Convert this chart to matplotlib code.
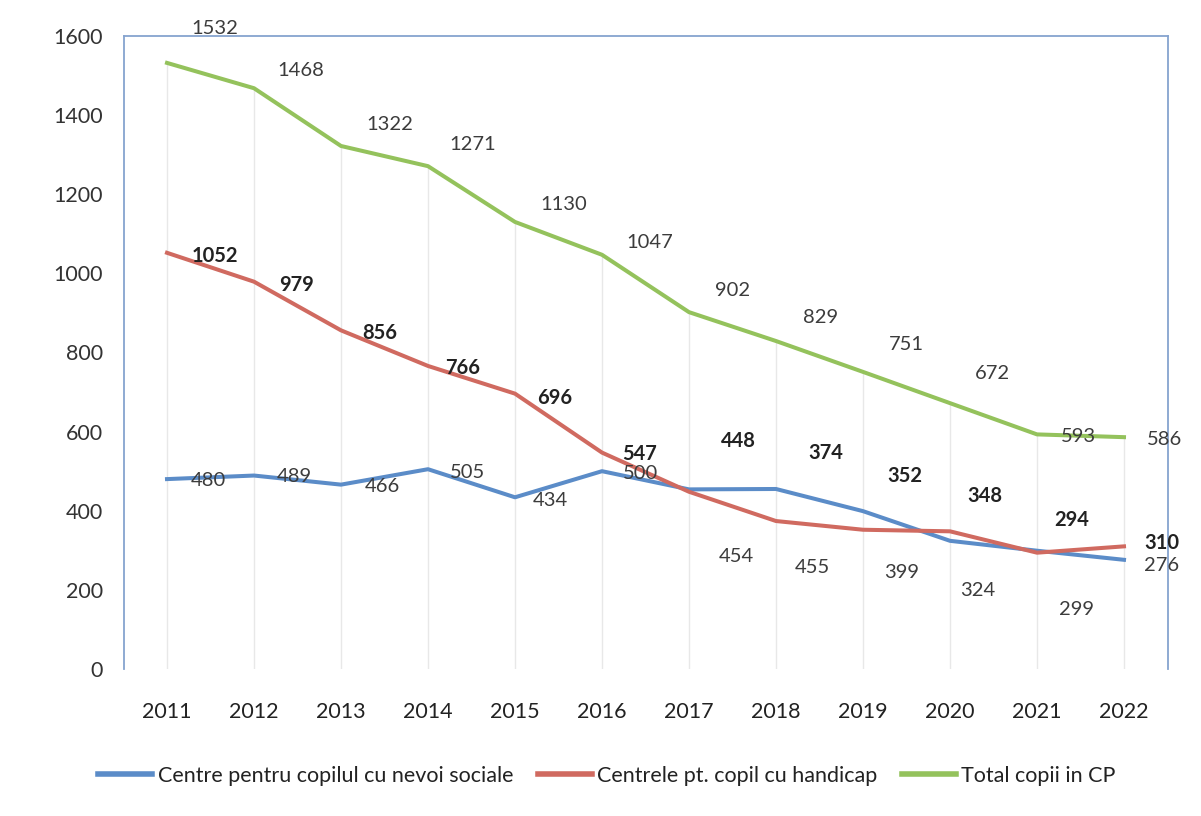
import matplotlib
matplotlib.use("Agg")
import matplotlib.pyplot as plt

years = ["2011", "2012", "2013", "2014", "2015", "2016", "2017", "2018", "2019", "2020", "2021", "2022"]
nevoi_sociale = [480, 489, 466, 505, 434, 500, 454, 455, 399, 324, 299, 276]
handicap = [1052, 979, 856, 766, 696, 547, 448, 374, 352, 348, 294, 310]
total = [1532, 1468, 1322, 1271, 1130, 1047, 902, 829, 751, 672, 593, 586]
y_ticks = [0, 200, 400, 600, 800, 1000, 1200, 1400, 1600]
series_names = ["Centre pentru copilul cu nevoi sociale",
                "Centrele pt. copil cu handicap",
                "Total copii in CP"]

# label offsets in pixels (dx right, dy up) as seen in the reference
off_blue = [(41, -1), (40, -1), (41, -2), (40, -3), (35, -3), (39, -2),
            (47, -67), (36, -79), (39, -61), (28, -50), (40, -59), (38, -6)]
off_red = [(48, -3), (42, -3), (39, -3), (35, -2), (40, -4), (38, -1),
           (49, 51), (50, 68), (42, 54), (35, 35), (35, 33), (38, 3)]
off_green = [(48, 34), (47, 18), (49, 21), (45, 22), (49, 17), (48, 12),
             (44, 22), (45, 24), (43, 27), (42, 30), (41, -2), (41, -2)]

plt.rcParams['font.family'] = ['Lato', 'DejaVu Sans']

W, H = 1201, 816
fig = plt.figure(figsize=(W / 100, H / 100), dpi=100)
ax = fig.add_axes([123.5 / W, (H - 669) / H, 1044 / W, 633 / H])

x = list(range(len(years)))
c_blue = '#5B8CC8'
c_red = '#D06A60'
c_green = '#94C25C'
frame = '#86A4CF'

ax.vlines(x, 0, total, colors='#E8E8E8', linewidth=1.0, zorder=1)

ax.plot(x, nevoi_sociale, color=c_blue, lw=2.9, label=series_names[0], zorder=3,
        solid_joinstyle='round')
ax.plot(x, handicap, color=c_red, lw=2.9, label=series_names[1], zorder=3,
        solid_joinstyle='round')
ax.plot(x, total, color=c_green, lw=2.9, label=series_names[2], zorder=3,
        solid_joinstyle='round')

lab_gray = '#3C3C3C'
for i in x:
    ax.annotate(str(nevoi_sociale[i]), (i, nevoi_sociale[i]), xytext=off_blue[i],
                textcoords='offset pixels', ha='center', va='center',
                fontsize=14.5, color=lab_gray, zorder=4)
    ax.annotate(str(handicap[i]), (i, handicap[i]), xytext=off_red[i],
                textcoords='offset pixels', ha='center', va='center',
                fontsize=14.5, color='#222222', fontweight='bold', zorder=4)
    ax.annotate(str(total[i]), (i, total[i]), xytext=off_green[i],
                textcoords='offset pixels', ha='center', va='center',
                fontsize=14.5, color=lab_gray, zorder=4, annotation_clip=False)

ax.set_xlim(-0.5, len(years) - 0.5)
ax.set_ylim(0, 1600)
ax.set_yticks(y_ticks)
ax.set_yticklabels([str(v) for v in y_ticks])
ax.set_xticks(x)
ax.set_xticklabels(years)
ax.tick_params(axis='y', length=0, pad=15, labelsize=15.5, labelcolor='#333333')
ax.tick_params(axis='x', length=0, pad=24, labelsize=15.5, labelcolor='#222222')

for s in ['top', 'left', 'right']:
    ax.spines[s].set_color(frame)
    ax.spines[s].set_linewidth(1.3)
ax.spines['bottom'].set_visible(False)

leg = fig.legend(loc='center', bbox_to_anchor=(607 / W, 1 - 776 / H), ncol=3,
                 frameon=False, fontsize=15.5, handlelength=2.5, handletextpad=0.25,
                 columnspacing=1.15)
for line in leg.get_lines():
    line.set_linewidth(4)
for t in leg.get_texts():
    t.set_color('#222222')

fig.savefig('out.png', dpi=100, facecolor='white')
